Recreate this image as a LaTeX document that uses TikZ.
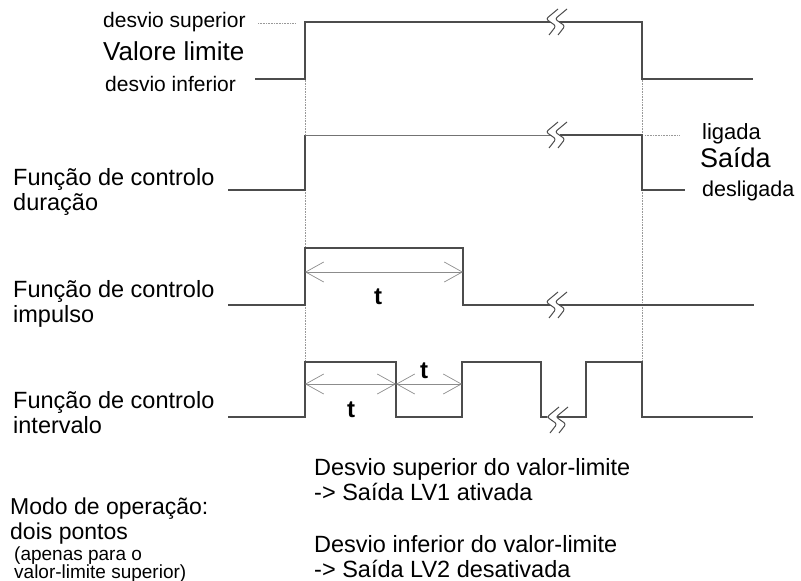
\documentclass[tikz,border=0pt]{standalone}
\usepackage{fontspec}
\setmainfont{Liberation Sans}
\usetikzlibrary{arrows.meta}
\tikzset{
  sig/.style={draw=black!70, line width=1.4pt},
  sigthin/.style={draw=black!55, line width=0.9pt},
  guide/.style={draw=black!40, densely dotted, line width=0.6pt},
  dim/.style={draw=black!45, line width=0.7pt,
    {Straight Barb[length=18pt,width=20pt]}-{Straight Barb[length=18pt,width=20pt]}},
  lab/.style={anchor=base west, inner sep=0pt, align=left},
  pics/brk/.style={code={
    \fill[white] (7,-13) -- (-5,-3) -- (5,4) -- (-2,13) -- (7,13) -- (14,4) -- (4,-3) -- (16,-13) -- cycle;
    \draw[black!70, line width=1pt, rounded corners=2.5pt] (7,-13) -- (-5,-3) -- (5,4) -- (-2,13);
    \draw[black!70, line width=1pt, rounded corners=2.5pt] (16,-13) -- (4,-3) -- (14,4) -- (7,13);
  }}
}
\begin{document}
\begin{tikzpicture}[x=1pt,y=-1pt]
  \useasboundingbox (0,0) rectangle (801,581);
  % guides
  \draw[guide] (305,22) -- (305,417);
  \draw[guide] (642,22) -- (642,417);
  \draw[guide] (258,23) -- (295,23);
  \draw[guide] (645,135) -- (680,135);
  % valore limite
  \draw[sig] (255,79) -- (305,79) -- (305,22) -- (642,22) -- (642,79) -- (753,79);
  \pic at (551,22) {brk};
  % saida / duracao
  \draw[sig] (228,190) -- (305,190) -- (305,135);
  \draw[sigthin] (305,135) -- (560,135);
  \draw[sig] (560,135) -- (642,135) -- (642,190) -- (685,190);
  \pic at (551,135) {brk};
  % impulso
  \draw[sig] (228,305) -- (305,305) -- (305,248) -- (463,248) -- (463,305) -- (754,305);
  \pic at (551,305) {brk};
  \draw[dim] (305,272) -- (463,272);
  \node[lab, font=\bfseries\fontsize{24}{24}\selectfont] (t1) at (374,304) {t};
  % intervalo
  \draw[sig] (228,417) -- (305,417) -- (305,362) -- (396,362) -- (396,417) -- (462,417)
    -- (462,362) -- (541,362) -- (541,417) -- (586,417) -- (586,362) -- (642,362)
    -- (642,417) -- (753,417);
  \pic at (552,420) {brk};
  \draw[dim] (305,384) -- (396,384);
  \draw[dim] (396,384) -- (462,384);
  \node[lab, font=\bfseries\fontsize{24}{24}\selectfont] (t2) at (347,417) {t};
  \node[lab, font=\bfseries\fontsize{24}{24}\selectfont] (t3) at (420,378) {t};
  % texts
  \node[lab, font=\fontsize{21}{21}\selectfont] (sup) at (103,27) {desvio superior};
  \node[lab, font=\fontsize{26}{26}\selectfont] (val) at (103,60) {Valore limite};
  \node[lab, font=\fontsize{21}{21}\selectfont] (inf) at (105,91) {desvio inferior};
  \node[lab, font=\fontsize{23.5}{25}\selectfont] (dur) at (13,210) {Função de controlo\\duração};
  \node[lab, font=\fontsize{23.5}{25}\selectfont] (imp) at (13,322) {Função de controlo\\impulso};
  \node[lab, font=\fontsize{23.5}{25}\selectfont] (int) at (13,433) {Função de controlo\\intervalo};
  \node[lab, font=\fontsize{22}{22}\selectfont] (lig) at (702,139) {ligada};
  \node[lab, font=\fontsize{27}{27}\selectfont] (sai) at (700,167) {Saída};
  \node[lab, font=\fontsize{21.5}{21.5}\selectfont] (des) at (702,196) {desligada};
  \node[lab, font=\fontsize{23.5}{25}\selectfont] (lv1) at (314,500) {Desvio superior do valor-limite\\-> Saída LV1 ativada};
  \node[lab, font=\fontsize{23.5}{25}\selectfont] (lv2) at (314,577) {Desvio inferior do valor-limite\\-> Saída LV2 desativada};
  \node[lab, font=\fontsize{23}{25}\selectfont] (modo) at (10,539) {Modo de operação:\\dois pontos};
  \node[lab, font=\fontsize{19}{18}\selectfont] (nota) at (14,578) {(apenas para o\\valor-limite superior)};
\end{tikzpicture}
\end{document}
